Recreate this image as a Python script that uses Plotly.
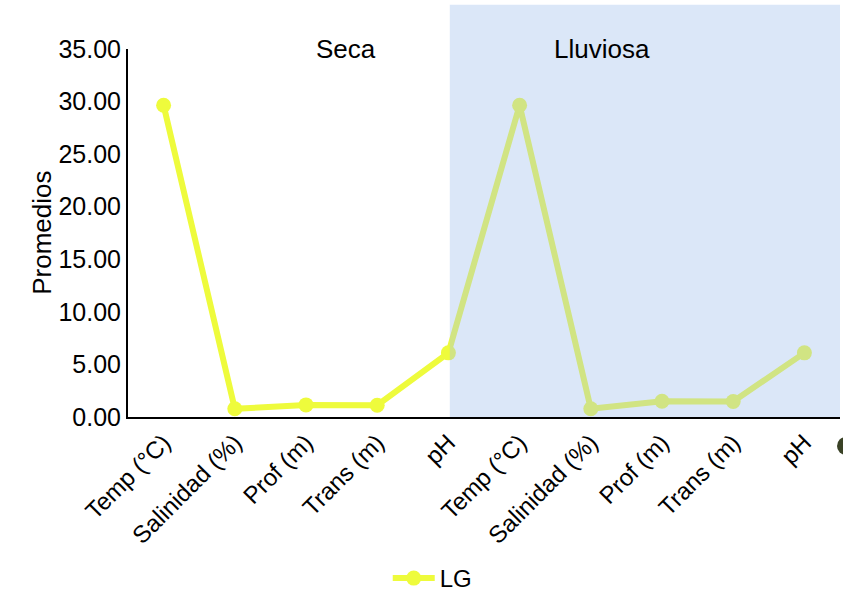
import plotly.graph_objects as go

categories = ["Temp (°C)", "Salinidad (%)", "Prof (m)", "Trans (m)", "pH",
              "Temp (°C)", "Salinidad (%)", "Prof (m)", "Trans (m)", "pH"]
lg_values = [29.65, 0.78, 1.15, 1.12, 6.1, 29.65, 0.78, 1.5, 1.48, 6.1]
season_labels = ["Seca", "Lluviosa"]
y_ticks = [0, 5, 10, 15, 20, 25, 30, 35]

x_pos = list(range(len(categories)))
font = "Liberation Sans, Arial, sans-serif"

fig = go.Figure()
fig.add_trace(go.Scatter(
    x=x_pos, y=lg_values, mode="lines+markers", name="LG",
    line=dict(color="#EEFB3C", width=6),
    marker=dict(color="#EEFB3C", size=15),
))

fig.add_shape(type="rect", xref="x", yref="paper", x0=4.02, x1=9.56, y0=0, y1=1.12,
              fillcolor="rgba(165,195,238,0.4)", line=dict(width=0), layer="above")
fig.add_shape(type="circle", xref="paper", yref="paper", x0=0.9958, x1=1.021,
              y0=-0.1033, y1=-0.0543, fillcolor="#3a4226", line=dict(width=0))

fig.add_annotation(x=0.261, y=1.046, xref="paper", yref="paper", text=season_labels[0],
                   showarrow=False, font=dict(size=26, color="black", family=font))
fig.add_annotation(x=0.736, y=1.046, xref="paper", yref="paper", text=season_labels[1],
                   showarrow=False, font=dict(size=26, color="black", family=font))
fig.add_annotation(x=-0.145, y=0.5, xref="paper", yref="paper", text="Promedios",
                   textangle=-90, showarrow=False,
                   font=dict(size=26, color="black", family=font))

fig.update_layout(
    width=843, height=602,
    margin=dict(l=128, r=3, t=49, b=185, autoexpand=False),
    plot_bgcolor="white", paper_bgcolor="white",
    font=dict(family=font, size=24, color="black"),
    showlegend=True,
    legend=dict(orientation="h", x=0.428, y=-0.5, xanchor="center", yanchor="bottom",
                itemwidth=42, font=dict(size=24, family=font)),
    xaxis=dict(range=[-0.5, 9.5], tickmode="array", tickvals=x_pos, ticktext=categories,
               tickangle=-45, showgrid=False, zeroline=False, showline=True,
               linecolor="black", linewidth=2, ticks="", tickfont=dict(size=24),
               automargin=False),
    yaxis=dict(range=[0, 35], tickmode="array", tickvals=y_ticks,
               ticktext=[f"{v:.2f}" for v in y_ticks], showgrid=False, zeroline=False,
               showline=True, linecolor="black", linewidth=2, ticks="",
               tickfont=dict(size=25), automargin=False),
)

fig.write_html("out.html", config={"displayModeBar": False},
               post_script="document.body.style.margin='0';")
